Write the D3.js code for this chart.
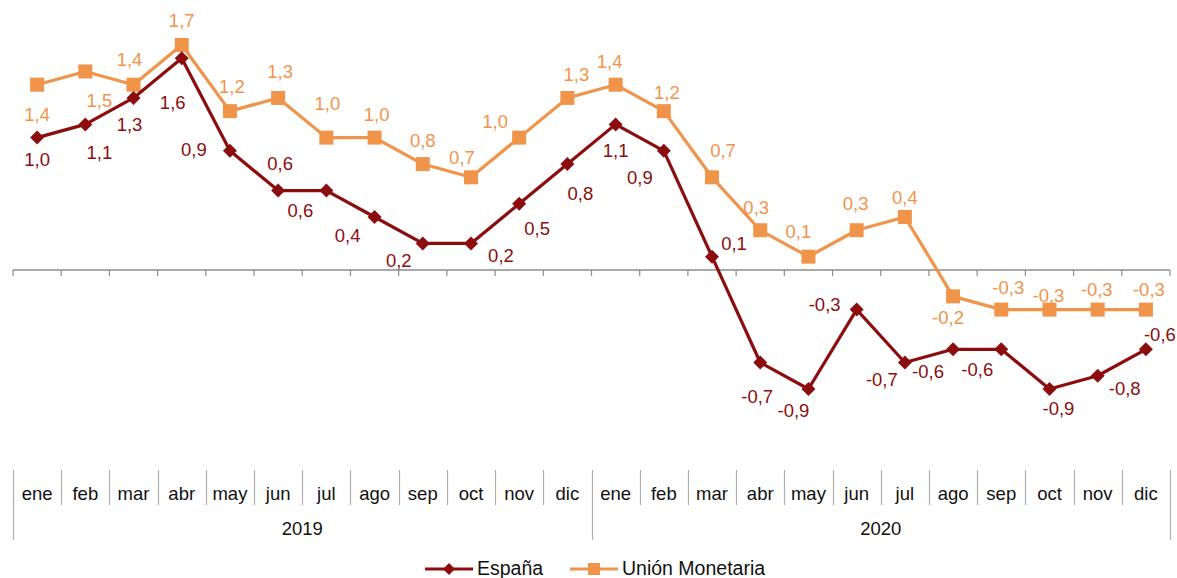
<!DOCTYPE html>
<html><head><meta charset="utf-8">
<script src="https://cdn.jsdelivr.net/npm/d3@7"></script>
<style>
body{margin:0;background:#fff;}
svg{display:block;font-family:"Liberation Sans",Arial,sans-serif;}
</style></head>
<body><svg id="c" width="1177" height="578"></svg>
<script>
const months = ["ene","feb","mar","abr","may","jun","jul","ago","sep","oct","nov","dic","ene","feb","mar","abr","may","jun","jul","ago","sep","oct","nov","dic"];
const years = ["2019","2020"];
const espana = [1.0,1.1,1.3,1.6,0.9,0.6,0.6,0.4,0.2,0.2,0.5,0.8,1.1,0.9,0.1,-0.7,-0.9,-0.3,-0.7,-0.6,-0.6,-0.9,-0.8,-0.6];
const union = [1.4,1.5,1.4,1.7,1.2,1.3,1.0,1.0,0.8,0.7,1.0,1.3,1.4,1.2,0.7,0.3,0.1,0.3,0.4,-0.2,-0.3,-0.3,-0.3,-0.3];
const seriesNames = ["España","Unión Monetaria"];
// label offsets (layout only), [dx, dy] relative to point
const espOff = [[0,22],[14,28],[-4,27],[-9,44],[-36,-1],[2,-27],[-26,20],[-27,18],[-24,17],[30,12],[18,25],[13,29],[0,26],[-24,27],[22,-13],[-3,34],[-15,21],[-32,-5],[-23,17],[-25,22],[-24,20],[9,19],[27,13],[14,-15]];
const unOff = [[0,30],[14,29],[-4,-25],[0,-25],[2,-25],[2,-26],[1,-34],[2,-23],[0,-24],[-9,-20],[-24,-16],[9,-23],[-6,-23],[3,-19],[11,-27],[-4,-23],[-10,-25],[-1,-27],[0,-20],[-5,21],[7,-22],[-1,-14],[-1,-20],[3,-20]];

const svg = d3.select("#c");
const colEsp = "#8B0D0D", colUn = "#F0944A", axisCol = "#8c8c8c";
const x = d3.scaleBand().domain(d3.range(months.length)).range([13,1170]);
const y = d3.scaleLinear().domain([-0.9,1.7]).range([389,45]);
const cx = i => x(i) + x.bandwidth()/2;
const fmt = v => d3.format(".1f")(v).replace(".",",").replace("\u2212","-");

// zero axis
const y0 = y(0);
svg.append("line").attr("x1",13).attr("x2",1170).attr("y1",y0).attr("y2",y0).attr("stroke",axisCol).attr("stroke-width",1.5);
d3.range(months.length+1).forEach(i=>{
  const xx = i<months.length ? x(i) : 1170;
  svg.append("line").attr("x1",xx).attr("x2",xx).attr("y1",y0).attr("y2",y0+6).attr("stroke",axisCol).attr("stroke-width",1.2);
});

// category axis at bottom
const catTop = 470;
d3.range(months.length+1).forEach(i=>{
  const xx = Math.round(i<months.length ? x(i) : 1170)+0.5;
  const long = (i===0 || i===12 || i===months.length);
  svg.append("line").attr("x1",xx).attr("x2",xx).attr("y1",catTop).attr("y2",long?540:505).attr("stroke","#b0b0b0").attr("stroke-width",1.2);
});
months.forEach((m,i)=>{
  svg.append("text").attr("x",cx(i)).attr("y",500).attr("text-anchor","middle").attr("font-size",18.5).attr("fill","#111").text(m);
});
years.forEach((yr,k)=>{
  svg.append("text").attr("x",(x(k*12)+ (k===1?1170:x(12)))/2).attr("y",535).attr("text-anchor","middle").attr("font-size",18.5).attr("fill","#111").text(yr);
});

const line = d3.line().x((d,i)=>cx(i)).y(d=>y(d));

// Unión Monetaria
svg.append("path").datum(union).attr("d",line).attr("fill","none").attr("stroke",colUn).attr("stroke-width",3.2).attr("stroke-linejoin","round");
svg.selectAll(".sq").data(union).join("rect").attr("x",(d,i)=>cx(i)-7).attr("y",d=>y(d)-7).attr("width",14).attr("height",14).attr("fill",colUn);
// España
svg.append("path").datum(espana).attr("d",line).attr("fill","none").attr("stroke",colEsp).attr("stroke-width",3.2).attr("stroke-linejoin","round");
svg.selectAll(".dm").data(espana).join("path").attr("d","M0,-7L7,0L0,7L-7,0Z").attr("transform",(d,i)=>`translate(${cx(i)},${y(d)})`).attr("fill",colEsp);

// labels
union.forEach((v,i)=>{
  svg.append("text").attr("x",cx(i)+unOff[i][0]).attr("y",y(v)+unOff[i][1]+6.5).attr("text-anchor","middle").attr("font-size",18.5).attr("fill",colUn).text(fmt(v));
});
espana.forEach((v,i)=>{
  svg.append("text").attr("x",cx(i)+espOff[i][0]).attr("y",y(v)+espOff[i][1]+6.5).attr("text-anchor","middle").attr("font-size",18.5).attr("fill",colEsp).text(fmt(v));
});

// legend
const lg = [{n:seriesNames[0],c:colEsp,x0:425,m:"d"},{n:seriesNames[1],c:colUn,x0:570,m:"s"}];
lg.forEach(l=>{
  const ly = 569;
  svg.append("line").attr("x1",l.x0).attr("x2",l.x0+48).attr("y1",ly).attr("y2",ly).attr("stroke",l.c).attr("stroke-width",3.2);
  if(l.m==="d") svg.append("path").attr("d","M0,-6L6,0L0,6L-6,0Z").attr("transform",`translate(${l.x0+24},${ly})`).attr("fill",l.c);
  else svg.append("rect").attr("x",l.x0+24-6).attr("y",ly-6).attr("width",12).attr("height",12).attr("fill",l.c);
  svg.append("text").attr("x",l.x0+52).attr("y",575).attr("font-size",19.5).attr("fill","#111").text(l.n);
});
</script></body></html>
